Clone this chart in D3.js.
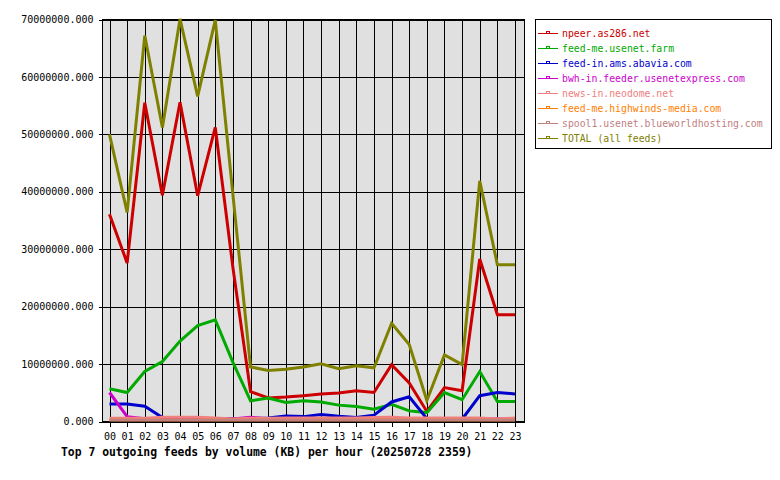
<!DOCTYPE html>
<html>
<head>
<meta charset="utf-8">
<script src="https://cdn.jsdelivr.net/npm/d3@7"></script>
<style>
  body { margin: 0; background: #ffffff; }
  text { font-family: "DejaVu Sans Mono", "Liberation Mono", monospace; }
</style>
</head>
<body>
<div id="vis"></div>
<script>
// Horas del eje X
const HOURS = ["00", "01", "02", "03", "04", "05", "06", "07", "08", "09", "10", "11",
  "12", "13", "14", "15", "16", "17", "18", "19", "20", "21", "22", "23"];

const Y_TICKS = [0, 10000000, 20000000, 30000000, 40000000, 50000000, 60000000, 70000000];

// Valores en millones de KB
const NPEER = [36.1, 27.6, 55.5, 39.4, 55.6, 39.3, 51.2, 26.8, 5.2, 4.1, 4.25, 4.5,
  4.8, 4.95, 5.35, 5.05, 9.9, 6.7, 1.75, 5.9, 5.35, 28.3, 18.6, 18.6];
const FEEDME = [5.7, 5.05, 8.7, 10.45, 14.0, 16.7, 17.7, 10.3, 3.6, 4.1, 3.3, 3.6,
  3.4, 2.85, 2.6, 2.15, 3.0, 1.85, 1.55, 5.05, 3.8, 8.7, 3.5, 3.5];
const ABAVIA = [3.05, 3.05, 2.65, 0.7, 0.5, 0.5, 0.5, 0.5, 0.5, 0.6, 0.95, 0.85,
  1.2, 0.9, 0.7, 1.1, 3.4, 4.3, 0.5, 0.4, 0.4, 4.5, 5.05, 4.8];
const BWH = [5.05, 0.85, 0.5, 0.45, 0.45, 0.45, 0.45, 0.45, 0.75, 0.45, 0.45, 0.45,
  0.45, 0.45, 0.45, 0.45, 0.45, 0.45, 0.45, 0.45, 0.45, 0.45, 0.45, 0.45];
const NEODOME = [0.55, 0.55, 0.55, 0.75, 0.75, 0.75, 0.6, 0.45, 0.55, 0.55, 0.6, 0.6,
  0.6, 0.6, 0.6, 0.7, 0.75, 0.6, 0.6, 0.6, 0.6, 0.6, 0.45, 0.6];
// highwinds queda tapado por spool1 en el grafico
const HIGHWINDS = [0.2, 0.2, 0.2, 0.2, 0.2, 0.2, 0.2, 0.2, 0.2, 0.2, 0.2, 0.2,
  0.2, 0.2, 0.2, 0.2, 0.2, 0.2, 0.2, 0.2, 0.2, 0.2, 0.2, 0.2];
const SPOOL1 = [0.2, 0.2, 0.2, 0.2, 0.2, 0.2, 0.2, 0.2, 0.2, 0.2, 0.2, 0.2,
  0.2, 0.2, 0.2, 0.2, 0.2, 0.2, 0.2, 0.2, 0.2, 0.2, 0.2, 0.2];
const TOTAL = [50.0, 36.4, 67.2, 51.2, 70.1, 56.6, 69.9, 39.5, 9.5, 8.9, 9.1, 9.5,
  10.05, 9.2, 9.7, 9.35, 17.1, 13.4, 3.65, 11.6, 9.9, 41.9, 27.3, 27.3];

const NAMES = ["npeer.as286.net", "feed-me.usenet.farm", "feed-in.ams.abavia.com",
  "bwh-in.feeder.usenetexpress.com", "news-in.neodome.net",
  "feed-me.highwinds-media.com", "spool1.usenet.blueworldhosting.com", "TOTAL (all feeds)"];
const COLORS = ["#cc0000", "#00aa00", "#0000cc", "#cc00cc", "#f08080", "#ff8000", "#c08080", "#808000"];
const VALUES = [NPEER, FEEDME, ABAVIA, BWH, NEODOME, HIGHWINDS, SPOOL1, TOTAL];

const TITLE = "Top 7 outgoing feeds by volume (KB) per hour (20250728 2359)";

const WIDTH = 780;
const HEIGHT = 480;

const PLOT = { left: 102.5, right: 524.5, top: 19.5, bottom: 421.5 };

const SVG = d3.select("#vis")
  .append("svg")
  .attr("width", WIDTH)
  .attr("height", HEIGHT)

const x = d3.scalePoint()
  .domain(HOURS)
  .range([109.5, 515]);

const y = d3.scaleLinear()
  .domain([0, 70000000])
  .range([PLOT.bottom, PLOT.top]);

// fondo del area
SVG.append("rect")
  .attr("x", PLOT.left)
  .attr("y", PLOT.top)
  .attr("width", PLOT.right - PLOT.left)
  .attr("height", PLOT.bottom - PLOT.top)
  .attr("fill", "#e0e0e0")

// grilla
const grid = SVG.append("g").attr("shape-rendering", "crispEdges");
grid.selectAll(".vg")
  .data(HOURS)
  .join("line")
  .attr("class", "vg")
  .attr("x1", d => Math.round(x(d)) + 0.5)
  .attr("x2", d => Math.round(x(d)) + 0.5)
  .attr("y1", PLOT.top)
  .attr("y2", PLOT.bottom)
  .attr("stroke", "#000")
grid.selectAll(".hg")
  .data(Y_TICKS)
  .join("line")
  .attr("class", "hg")
  .attr("x1", PLOT.left)
  .attr("x2", PLOT.right)
  .attr("y1", d => Math.round(y(d)) + 0.5)
  .attr("y2", d => Math.round(y(d)) + 0.5)
  .attr("stroke", "#000")

// ejes
const yAxis = SVG.append("g")
  .attr("transform", `translate(${PLOT.left}, 0)`)
  .call(d3.axisLeft(y).tickValues(Y_TICKS).tickSize(4).tickPadding(5).tickFormat(d3.format(".3f")))
yAxis.select(".domain").remove();

const xAxis = SVG.append("g")
  .attr("transform", `translate(0, ${PLOT.bottom})`)
  .call(d3.axisBottom(x).tickSize(5).tickPadding(6))
xAxis.select(".domain").remove();

SVG.selectAll(".tick line").attr("stroke", "#000").attr("shape-rendering", "crispEdges");
SVG.selectAll(".tick text")
  .attr("fill", "#000")
  .style("font-size", "10px")
  .style("font-family", "DejaVu Sans Mono")

// borde
SVG.append("rect")
  .attr("x", PLOT.left)
  .attr("y", PLOT.top)
  .attr("width", PLOT.right - PLOT.left)
  .attr("height", PLOT.bottom - PLOT.top)
  .attr("fill", "none")
  .attr("stroke", "#000")
  .attr("shape-rendering", "crispEdges")

// lineas de cada feed
const line = d3.line()
  .x((d, i) => x(HOURS[i]))
  .y(d => y(d * 1000000));

SVG.append("clipPath").attr("id", "clip")
  .append("rect")
  .attr("x", PLOT.left)
  .attr("y", PLOT.top - 3)
  .attr("width", PLOT.right - PLOT.left)
  .attr("height", PLOT.bottom - PLOT.top + 3)

SVG.append("g")
  .attr("clip-path", "url(#clip)")
  .selectAll("path")
  .data(VALUES)
  .join("path")
  .attr("d", d => line(d))
  .attr("fill", "none")
  .attr("stroke", (d, i) => COLORS[i])
  .attr("stroke-width", 3)
  .attr("stroke-linejoin", "miter")

// leyenda
SVG.append("rect")
  .attr("x", 535.5)
  .attr("y", 19.5)
  .attr("width", 236)
  .attr("height", 129)
  .attr("fill", "#fff")
  .attr("stroke", "#000")
  .attr("shape-rendering", "crispEdges")

const items = SVG.append("g")
  .selectAll("g")
  .data(NAMES)
  .join("g")
  .attr("transform", (d, i) => `translate(0, ${33 + i * 15})`)

items.append("line")
  .attr("x1", 538)
  .attr("x2", 558)
  .attr("y1", 0.5)
  .attr("y2", 0.5)
  .attr("stroke", (d, i) => COLORS[i])
  .attr("shape-rendering", "crispEdges")

items.append("rect")
  .attr("x", 546.5)
  .attr("y", -1.5)
  .attr("width", 3)
  .attr("height", 2)
  .attr("fill", "none")
  .attr("stroke", (d, i) => COLORS[i])
  .attr("shape-rendering", "crispEdges")

items.append("text")
  .attr("x", 562)
  .attr("y", 4)
  .attr("fill", (d, i) => COLORS[i])
  .style("font-size", "9.8px")
  .text(d => d)

// titulo
SVG.append("text")
  .attr("x", 61)
  .attr("y", 456)
  .attr("fill", "#000")
  .style("font-size", "11.4px")
  .style("font-weight", "bold")
  .text(TITLE)
</script>
</body>
</html>
